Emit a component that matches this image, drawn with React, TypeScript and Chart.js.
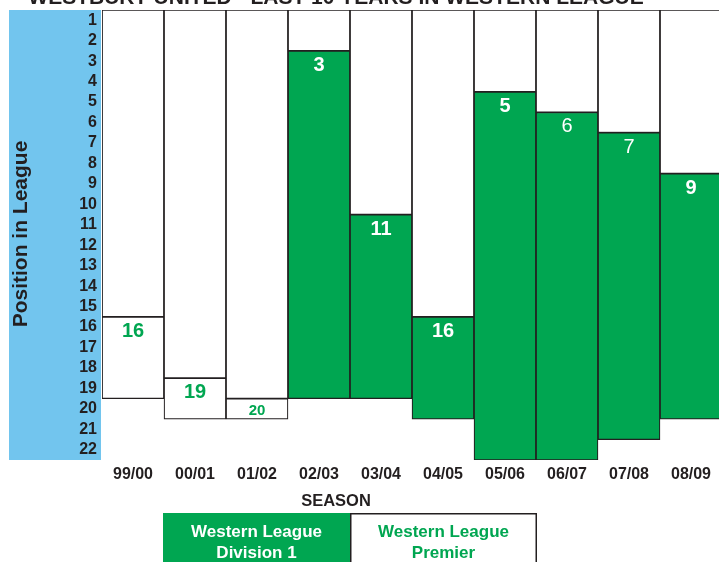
import React, { useEffect, useRef } from "react";
import { Chart, registerables } from "chart.js";

Chart.register(...registerables);

const seasons = ["99/00", "00/01", "01/02", "02/03", "03/04", "04/05", "05/06", "06/07", "07/08", "08/09"];
const positions = [16, 19, 20, 3, 11, 16, 5, 6, 7, 9];
const leagueSizes = [19, 20, 20, 19, 19, 20, 22, 22, 21, 20];
const divisions = ["Premier", "Premier", "Premier", "Division 1", "Division 1", "Division 1", "Division 1", "Division 1", "Division 1", "Division 1"];
const yTickLabels = Array.from({ length: 22 }, (_, i) => i + 1);

const TITLE = "WESTBURY UNITED - LAST 10 YEARS IN WESTERN LEAGUE";
const Y_TITLE = "Position in League";
const X_TITLE = "SEASON";
const LEGEND = [
  { lines: ["Western League", "Division 1"], division: "Division 1" },
  { lines: ["Western League", "Premier"], division: "Premier" },
];

const GREEN = "#00a651";
const BLUE = "#72c5ee";
const INK = "#231f20";
const FONT = "'Liberation Sans', Arial, Helvetica, sans-serif";

export default function App() {
  const ref = useRef<HTMLCanvasElement | null>(null);

  useEffect(() => {
    const canvas = ref.current;
    if (!canvas) return;

    const fillFor = (d: string) => (d === "Division 1" ? GREEN : "#ffffff");

    const decor = {
      id: "decor",
      beforeDraw(chart: any) {
        const { ctx, chartArea } = chart;
        ctx.save();
        ctx.fillStyle = "#ffffff";
        ctx.fillRect(0, 0, chart.width, chart.height);
        ctx.fillStyle = BLUE;
        ctx.fillRect(9, chartArea.top, chartArea.left - 1 - 9, chartArea.bottom - chartArea.top);
        ctx.restore();
      },
      afterDraw(chart: any) {
        const { ctx } = chart;
        const meta = chart.getDatasetMeta(1);
        ctx.save();
        // data labels
        meta.data.forEach((bar: any, i: number) => {
          const green = divisions[i] === "Division 1";
          const top = Math.min(bar.y, bar.base);
          const height = Math.abs(bar.base - bar.y);
          const small = height < 25;
          const weight = i === 7 || i === 8 ? "normal" : "bold";
          ctx.font = `${weight} ${small ? 15 : 20}px ${FONT}`;
          ctx.fillStyle = green ? "#ffffff" : GREEN;
          ctx.textAlign = "center";
          ctx.textBaseline = "middle";
          ctx.fillText(String(positions[i]), bar.x, top + (small ? 12 : 14.5));
        });

        // title (cut at top)
        ctx.fillStyle = INK;
        ctx.font = `bold 21px ${FONT}`;
        ctx.textAlign = "center";
        ctx.textBaseline = "alphabetic";
        ctx.fillText(TITLE, 336, 4);

        // y title
        ctx.save();
        ctx.translate(21, 234);
        ctx.rotate(-Math.PI / 2);
        ctx.font = `bold 21px ${FONT}`;
        ctx.textBaseline = "middle";
        ctx.fillText(Y_TITLE, 0, 0);
        ctx.restore();

        // x title
        ctx.font = `bold 16.5px ${FONT}`;
        ctx.textBaseline = "middle";
        ctx.fillText(X_TITLE, 336, 501);

        // legend
        const boxes = [
          { x: 163, w: 187 },
          { x: 350, w: 187 },
        ];
        LEGEND.forEach((item, k) => {
          const b = boxes[k];
          const g = item.division === "Division 1";
          ctx.fillStyle = fillFor(item.division);
          ctx.fillRect(b.x, 513, b.w, 60);
          if (!g) {
            ctx.strokeStyle = INK;
            ctx.lineWidth = 1.5;
            ctx.strokeRect(b.x + 0.75, 513.75, b.w - 1.5, 60);
          }
          ctx.fillStyle = g ? "#ffffff" : GREEN;
          ctx.font = `bold 17px ${FONT}`;
          ctx.textAlign = "center";
          ctx.textBaseline = "middle";
          ctx.fillText(item.lines[0], b.x + b.w / 2, 532);
          ctx.fillText(item.lines[1], b.x + b.w / 2, 553);
        });
        ctx.restore();
      },
    };

    const chart = new Chart(canvas, {
      type: "bar",
      data: {
        labels: seasons,
        datasets: [
          {
            label: "above",
            data: positions.map((p) => [0.5, p - 0.5]) as any,
            backgroundColor: "#ffffff",
            borderColor: INK,
            borderWidth: 1.2,
            borderSkipped: false,
            grouped: false,
            categoryPercentage: 1,
            barPercentage: 1,
          },
          {
            label: "league",
            data: positions.map((p, i) => [p - 0.5, leagueSizes[i] + 0.5]) as any,
            backgroundColor: divisions.map(fillFor),
            borderColor: INK,
            borderWidth: 1.2,
            borderSkipped: false,
            grouped: false,
            categoryPercentage: 1,
            barPercentage: 1,
          },
        ],
      },
      options: {
        responsive: false,
        animation: false,
        devicePixelRatio: 1,
        layout: { padding: { top: 10, right: 3, left: 0, bottom: 0 } },
        plugins: {
          legend: { display: false },
          tooltip: { enabled: false },
          title: { display: false },
        },
        scales: {
          x: {
            grid: { display: false, drawTicks: false },
            border: { display: false },
            ticks: {
              color: INK,
              font: { family: FONT, size: 16, weight: "bold" },
              padding: 5,
              maxRotation: 0,
              autoSkip: false,
            },
            afterFit: (s: any) => {
              s.height = 102;
              s.paddingLeft = 0;
              s.paddingRight = 0;
            },
          },
          y: {
            type: "linear",
            reverse: true,
            min: 0.5,
            max: 22.5,
            grid: { display: false, drawTicks: false },
            border: { display: false },
            afterBuildTicks: (s: any) => {
              s.ticks = yTickLabels.map((v) => ({ value: v }));
            },
            ticks: {
              color: INK,
              font: { family: FONT, size: 16, weight: "bold" },
              padding: 5,
              autoSkip: false,
              callback: (v: any) => String(v),
            },
            afterFit: (s: any) => {
              s.width = 102;
              s.paddingTop = 0;
              s.paddingBottom = 0;
            },
          },
        },
      },
      plugins: [decor],
    });

    return () => chart.destroy();
  }, []);

  return (
    <div style={{ position: "fixed", left: 0, top: 0, width: 719, height: 562, overflow: "hidden", background: "#fff" }}>
      <canvas ref={ref} width={725} height={562} style={{ display: "block", width: 725, height: 562 }} />
    </div>
  );
}
